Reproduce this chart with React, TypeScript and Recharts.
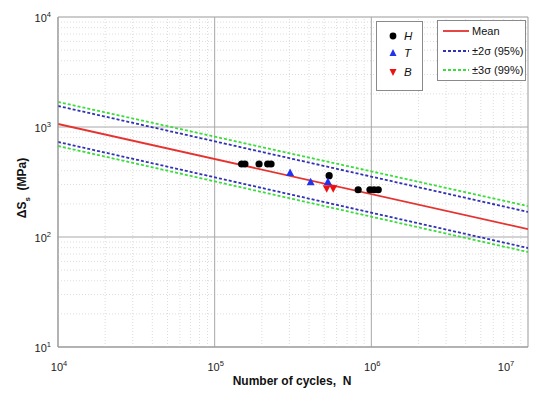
import React from "react";
import {
  ComposedChart,
  XAxis,
  YAxis,
  Line,
  Scatter,
  ReferenceLine,
  ReferenceArea,
} from "recharts";

// ---- data ----
const xTicks = [1e4, 1e5, 1e6, 1e7];
const yTicks = [10, 100, 1000, 10000];

const lineEndsN = [1e4, 1e7];
const meanS = [1065, 118];
const up2S = [1553, 169];
const lo2S = [731, 79.4];
const up3S = [1690, 191];
const lo3S = [672, 73];

const hN = [148600, 156000, 192000, 218000, 229000, 538000, 824000, 980000, 1040000, 1107000];
const hS = [461, 461, 461, 461, 461, 361, 269, 269, 269, 269];
const tN = [303000, 410000, 528000];
const tS = [382, 314, 316];
const bN = [519000, 571000];
const bS = [277, 277];

const toPts = (ns: number[], ss: number[]) => ns.map((n, i) => ({ N: n, S: ss[i] }));

const minorX: number[] = [];
[1e4, 1e5, 1e6].forEach((d) => {
  for (let k = 2; k <= 9; k++) minorX.push(k * d);
});
const minorY: number[] = [];
[10, 100, 1000].forEach((d) => {
  for (let k = 2; k <= 9; k++) minorY.push(k * d);
});

const FONT = "'Liberation Sans', Arial, Helvetica, sans-serif";
const RED = "#e5332f";
const BLUE = "#3232b4";
const GREEN = "#3cdc3c";

const XTick = (props: any) => {
  const { x, y, payload } = props;
  const e = Math.round(Math.log10(payload.value));
  return (
    <text x={x + 1} y={y + 16} textAnchor="middle" fontFamily={FONT} fontSize={11} fill="#222">
      10
      <tspan dy={-5} fontSize={7.5}>
        {e}
      </tspan>
    </text>
  );
};

const YTick = (props: any) => {
  const { x, y, payload } = props;
  const e = Math.round(Math.log10(payload.value));
  return (
    <text x={x + 1} y={y + 5} textAnchor="end" fontFamily={FONT} fontSize={11} fill="#222">
      10
      <tspan dy={-5} fontSize={7.5}>
        {e}
      </tspan>
    </text>
  );
};

const Circ = (p: any) => <circle cx={p.cx} cy={p.cy} r={3.6} fill="#000" />;
const TriUp = (p: any) => (
  <polygon
    points={`${p.cx},${p.cy - 4.5} ${p.cx - 4},${p.cy + 3} ${p.cx + 4},${p.cy + 3}`}
    fill="#2233ee"
  />
);
const TriDown = (p: any) => (
  <polygon
    points={`${p.cx},${p.cy + 4.5} ${p.cx - 4},${p.cy - 3} ${p.cx + 4},${p.cy - 3}`}
    fill="#ee1111"
  />
);

const lines = [
  { key: "up3", s: up3S, color: GREEN, dash: "3 2" },
  { key: "lo3", s: lo3S, color: GREEN, dash: "3 2" },
  { key: "up2", s: up2S, color: BLUE, dash: "3 2" },
  { key: "lo2", s: lo2S, color: BLUE, dash: "3 2" },
  { key: "mean", s: meanS, color: RED, dash: undefined },
];

export default function App() {
  return (
    <div style={{ position: "absolute", left: 0, top: 0, width: 537, height: 394, background: "#fff" }}>
      <ComposedChart width={537} height={394} margin={{ top: 17, right: 9, left: 0, bottom: 0 }}>
        <XAxis
          dataKey="N"
          type="number"
          scale="log"
          domain={[1e4, 1e7]}
          ticks={xTicks}
          tick={<XTick />}
          tickLine={false}
          axisLine={{ stroke: "#999" }}
          height={47}
          allowDataOverflow
        />
        <YAxis
          dataKey="S"
          type="number"
          scale="log"
          domain={[10, 1e4]}
          ticks={yTicks}
          tick={<YTick />}
          tickLine={false}
          axisLine={{ stroke: "#999" }}
          width={58}
          allowDataOverflow
        />
        {minorX.map((v) => (
          <ReferenceLine key={"mx" + v} x={v} stroke="#dcdcdc" strokeDasharray="1 2" strokeWidth={1} />
        ))}
        {minorY.map((v) => (
          <ReferenceLine key={"my" + v} y={v} stroke="#dcdcdc" strokeDasharray="1 2" strokeWidth={1} />
        ))}
        {[1e5, 1e6].map((v) => (
          <ReferenceLine key={"Mx" + v} x={v} stroke="#a8a8a8" strokeWidth={1} />
        ))}
        {[100, 1000].map((v) => (
          <ReferenceLine key={"My" + v} y={v} stroke="#a8a8a8" strokeWidth={1} />
        ))}
        <ReferenceArea x1={1e4} x2={1e7} y1={10} y2={1e4} fill="none" stroke="#999" strokeWidth={1} />
        {lines.map((l) => (
          <Line
            key={l.key}
            data={toPts(lineEndsN, l.s)}
            dataKey="S"
            type="linear"
            stroke={l.color}
            strokeWidth={1.8}
            strokeDasharray={l.dash}
            dot={false}
            activeDot={false}
            isAnimationActive={false}
          />
        ))}
        <Scatter data={toPts(hN, hS)} dataKey="S" shape={<Circ />} isAnimationActive={false} />
        <Scatter data={toPts(tN, tS)} dataKey="S" shape={<TriUp />} isAnimationActive={false} />
        <Scatter data={toPts(bN, bS)} dataKey="S" shape={<TriDown />} isAnimationActive={false} />
      </ComposedChart>
      <svg
        width={537}
        height={394}
        style={{ position: "absolute", left: 0, top: 0, pointerEvents: "none" }}
        fontFamily={FONT}
      >
        {/* marker legend */}
        <rect x={376.5} y={21.5} width={46} height={69} fill="#fff" stroke="#8a8a8a" />
        <circle cx={393} cy={36} r={3.4} fill="#000" />
        <polygon points="393,49 389.5,56 396.5,56" fill="#2233ee" />
        <polygon points="393,76 389.5,69 396.5,69" fill="#ee1111" />
        <text x={404} y={40} fontSize={11.5} fontStyle="italic" fill="#111">H</text>
        <text x={404} y={57} fontSize={11.5} fontStyle="italic" fill="#111">T</text>
        <text x={404} y={76} fontSize={11.5} fontStyle="italic" fill="#111">B</text>
        {/* line legend */}
        <rect x={437.5} y={20.5} width={88} height={60} fill="#fff" stroke="#8a8a8a" />
        <line x1={443} x2={469} y1={31} y2={31} stroke={RED} strokeWidth={1.8} />
        <line x1={443} x2={469} y1={51} y2={51} stroke={BLUE} strokeWidth={1.8} strokeDasharray="3 2" />
        <line x1={443} x2={469} y1={70} y2={70} stroke={GREEN} strokeWidth={1.8} strokeDasharray="3 2" />
        <text x={472} y={35} fontSize={11} fill="#111">Mean</text>
        <text x={472} y={55} fontSize={11} fill="#111">±2σ (95%)</text>
        <text x={472} y={74} fontSize={11} fill="#111">±3σ (99%)</text>
        {/* axis titles */}
        <text x={292} y={385} textAnchor="middle" fontSize={12} fontWeight="bold" fill="#111">
          {"Number of cycles,\u00a0\u00a0N"}
        </text>
        <text
          transform="translate(26,188) rotate(-90)"
          textAnchor="middle"
          fontSize={12}
          fontWeight="bold"
          fill="#111"
        >
          ΔS
          <tspan dy={4} fontSize={8}>s</tspan>
          <tspan dy={-4}>{"\u00a0\u00a0(MPa)"}</tspan>
        </text>
      </svg>
    </div>
  );
}
